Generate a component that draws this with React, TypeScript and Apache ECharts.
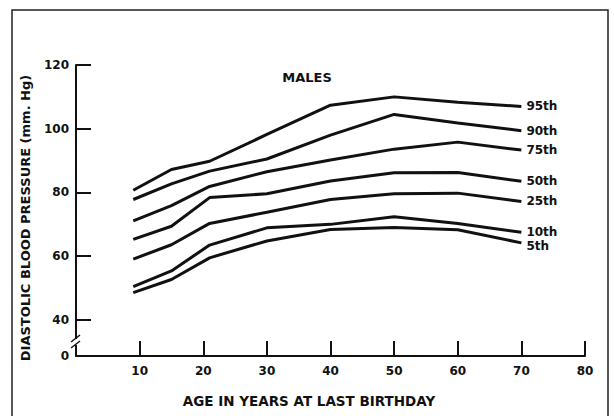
import React, { useEffect, useRef } from "react";
import * as echarts from "echarts";

const AGES = [9, 15, 21, 30, 40, 50, 60, 70];
const PERCENTILES = ["95th", "90th", "75th", "50th", "25th", "10th", "5th"];
const P95 = [80.7, 87.2, 89.8, 98.2, 107.4, 110, 108.3, 107];
const P90 = [77.8, 82.7, 86.7, 90.5, 98, 104.5, 101.8, 99.4];
const P75 = [71.1, 75.9, 81.9, 86.5, 90.2, 93.6, 95.8, 93.3];
const P50 = [65.3, 69.4, 78.4, 79.6, 83.6, 86.2, 86.3, 83.5];
const P25 = [59.1, 63.6, 70.3, 73.8, 77.8, 79.6, 79.8, 77.2];
const P10 = [50.5, 55.4, 63.5, 68.9, 70, 72.4, 70.3, 67.5];
const P5 = [48.6, 52.7, 59.5, 64.8, 68.4, 69, 68.3, 64.2];
const VALUES = [P95, P90, P75, P50, P25, P10, P5];
const LABEL_OFFSETS = [0, 0, 0, 0, 0, 0, 3];

const X_TICKS = [10, 20, 30, 40, 50, 60, 70, 80];
const Y_TICKS = [40, 60, 80, 100, 120];
const Y_MIN = 28.7; // axis break: bottom of axis is labelled 0
const Y_MAX = 120;

const FONT = "DejaVu Sans";
const INK = "#111";

export default function App() {
  const ref = useRef<HTMLDivElement>(null);
  useEffect(() => {
    if (!ref.current) return;
    const chart = echarts.init(ref.current, undefined, { renderer: "svg" });
    const series = PERCENTILES.map((name, k) => ({
      name,
      type: "line",
      data: AGES.map((a, i) => [a, VALUES[k][i]]),
      showSymbol: false,
      symbol: "none",
      lineStyle: { color: INK, width: 3 },
      endLabel: {
        show: true,
        formatter: "{a}",
        color: INK,
        fontFamily: FONT,
        fontWeight: "bold",
        fontSize: 12,
        distance: 5,
        offset: [0, LABEL_OFFSETS[k]],
      },
      z: 3,
    }));
    chart.setOption({
      animation: false,
      backgroundColor: "#fff",
      title: {
        text: "MALES",
        left: "center",
        top: 66,
        textStyle: { fontFamily: FONT, fontWeight: "bold", fontSize: 13, color: INK },
      },
      grid: { left: 76, right: 29, top: 65, bottom: 60 },
      xAxis: {
        type: "value",
        min: 0,
        max: 80,
        interval: 10,
        name: "AGE IN YEARS AT LAST BIRTHDAY",
        nameLocation: "middle",
        nameGap: 38,
        nameTextStyle: {
          fontFamily: FONT,
          fontWeight: "bold",
          fontSize: 13.5,
          color: INK,
          padding: [0, 43, 0, 0],
        },
        axisLine: { show: true, lineStyle: { color: INK, width: 2 } },
        axisTick: { show: true, inside: true, length: 15, customValues: X_TICKS, lineStyle: { color: INK, width: 2 } },
        axisLabel: {
          customValues: X_TICKS,
          margin: 9,
          fontFamily: FONT,
          fontWeight: "bold",
          fontSize: 12,
          color: INK,
        },
        splitLine: { show: false },
      },
      yAxis: {
        type: "value",
        min: Y_MIN,
        max: Y_MAX,
        name: "DIASTOLIC BLOOD PRESSURE (mm. Hg)",
        nameLocation: "middle",
        nameGap: 44,
        nameRotate: 90,
        nameTextStyle: {
          fontFamily: FONT,
          fontWeight: "bold",
          fontSize: 13,
          color: INK,
          padding: [0, 15, 0, 0],
        },
        axisLine: { show: true, lineStyle: { color: INK, width: 2 } },
        axisTick: { show: true, inside: true, length: 15, customValues: Y_TICKS, lineStyle: { color: INK, width: 2 } },
        axisLabel: {
          customValues: [Y_MIN, ...Y_TICKS],
          formatter: (v: number) => (Math.abs(v - Y_MIN) < 1e-6 ? "0" : String(v)),
          margin: 7,
          fontFamily: FONT,
          fontWeight: "bold",
          fontSize: 12,
          color: INK,
        },
        splitLine: { show: false },
      },
      graphic: [
        {
          type: "rect",
          shape: { x: 12, y: 10, width: 596, height: 420 },
          style: { fill: "none", stroke: "#222", lineWidth: 1.5 },
          silent: true,
        },
        {
          type: "rect",
          shape: { x: 73, y: 339, width: 6, height: 6 },
          style: { fill: "#fff" },
          z: 10,
        },
        {
          type: "line",
          shape: { x1: 71, y1: 342, x2: 80, y2: 335 },
          style: { stroke: INK, lineWidth: 1.5 },
          z: 11,
        },
        {
          type: "line",
          shape: { x1: 71, y1: 348, x2: 80, y2: 341 },
          style: { stroke: INK, lineWidth: 1.5 },
          z: 11,
        },
      ],
      series,
    });
    return () => chart.dispose();
  }, []);
  return (
    <div
      ref={ref}
      style={{ position: "fixed", left: 0, top: 0, width: 614, height: 416, background: "#fff" }}
    />
  );
}
